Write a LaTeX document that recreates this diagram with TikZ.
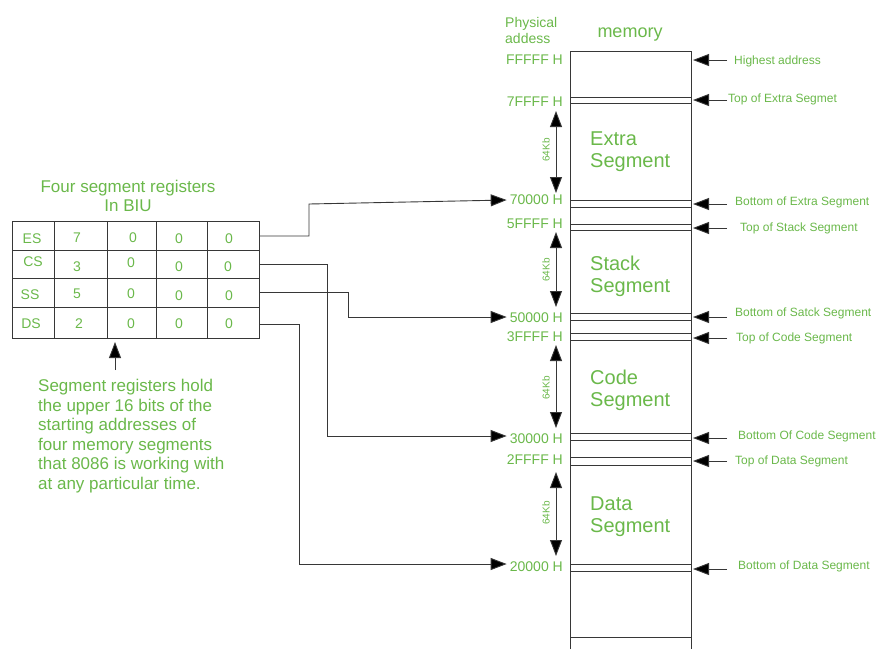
\documentclass[tikz,border=0pt]{standalone}
\usepackage{fontspec}
\setmainfont{Liberation Sans}
\usetikzlibrary{arrows.meta}
\definecolor{grn}{RGB}{106,184,74}
\definecolor{ln}{RGB}{55,55,55}
\begin{document}
\begin{tikzpicture}[x=1pt,y=-1pt,
  txt/.style={text=grn, inner sep=0pt},
  addr/.style={txt, anchor=mid east, font=\fontsize{14}{16}\selectfont},
  rlbl/.style={txt, anchor=mid west, font=\fontsize{12}{14}\selectfont},
  seg/.style={txt, align=left, anchor=west, font=\fontsize{20}{22}\selectfont},
  cell/.style={txt, font=\fontsize{14}{16}\selectfont},
  wire/.style={draw=ln, line width=0.9pt},
  tipA/.tip={Triangle[length=16pt,width=12pt,fill=black]},
  arr/.style={wire, -tipA},
  darr/.style={wire, tipA-tipA},
  kb/.style={txt, rotate=90, font=\fontsize{10}{12}\selectfont}
]
\useasboundingbox (0,0) rectangle (881,649);

% ---------- memory column ----------
\draw[wire] (570,649) -- (570,51) -- (691,51) -- (691,649);
\draw[wire] (570,637) -- (691,637);
\foreach \yy in {97,103,200,207,224,230,313,320,333,340,433,440,457,465,564,571}
  \draw[wire] (570,\yy) -- (691,\yy);

\node[txt, align=left, anchor=west, font=\fontsize{14}{16}\selectfont] (phys) at (505,30) {Physical\\addess};
\node[txt, font=\fontsize{18}{20}\selectfont] (mem) at (630,35) {memory};

% ---------- addresses ----------
\node[addr] (aF) at (563,62) {FFFFF H};
\node[addr] (a7F) at (563,104) {7FFFF H};
\node[addr] (a70) at (563,202) {70000 H};
\node[addr] (a5F) at (563,226) {5FFFF H};
\node[addr] (a50) at (563,320) {50000 H};
\node[addr] (a3F) at (563,339) {3FFFF H};
\node[addr] (a30) at (563,441) {30000 H};
\node[addr] (a2F) at (563,462) {2FFFF H};
\node[addr] (a20) at (563,569) {20000 H};

% ---------- segment names ----------
\node[seg] (sE) at (590,152) {Extra\\Segment};
\node[seg] (sS) at (590,276) {Stack\\Segment};
\node[seg] (sC) at (590,390) {Code\\Segment};
\node[seg] (sD) at (590,517) {Data\\Segment};

% ---------- 64Kb arrows ----------
\foreach \n/\ya/\yb/\yk in {E/111/193/150, S/232/307/270, C/345/428/388, D/472/556/513}{
  \coordinate (kt\n) at (556,\ya);
  \coordinate (kb\n) at (556,\yb);
  \draw[darr] (kt\n) -- (kb\n);
  \node[kb] (kl\n) at (546,\yk) {64Kb};
}

% ---------- right-hand labels ----------
\foreach \n/\xl/\yl/\ya/\t in {
  1/734/62/60/Highest address,
  2/728/100/100/Top of Extra Segmet,
  3/735/203/204/Bottom of Extra Segment,
  4/740/229/228/Top of Stack Segment,
  5/735/314/317/Bottom of Satck Segment,
  6/736/339/338/Top of Code Segment,
  7/738/437/438/Bottom Of Code Segment,
  8/735/462/461/Top of Data Segment,
  9/738/567/569/Bottom of Data Segment}{
  \node[rlbl] (r\n) at (\xl,\yl) {\t};
  \coordinate (ra\n) at (727,\ya);
  \coordinate (rb\n) at (693,\ya);
  \draw[arr] (ra\n) -- (rb\n);
}

% ---------- register table ----------
\node[txt, align=center, font=\fontsize{17}{19}\selectfont] (title) at (128,196) {Four segment registers\\In BIU};
\draw[wire] (12,221) rectangle (259,338);
\foreach \yy in {250,278,307} \draw[wire] (12,\yy) -- (259,\yy);
\foreach \xx in {54,107,156,207} \draw[wire] (\xx,221) -- (\xx,338);

\foreach \r/\t/\x/\y in {
  11/ES/32/239, 12/7/77/238, 13/0/133/238, 14/0/179/239, 15/0/229/239,
  21/CS/33/262, 22/3/77/267, 23/0/131/263, 24/0/179/267, 25/0/228/267,
  31/SS/30/295, 32/5/77/294, 33/0/131/294, 34/0/179/296, 35/0/229/296,
  41/DS/31/324, 42/2/79/324, 43/0/131/324, 44/0/179/324, 45/0/229/324}
  \node[cell] (c\r) at (\x,\y) {\t};

% ---------- connectors ----------
\coordinate (es) at (259,236);
\coordinate (cs) at (259,264);
\coordinate (ss) at (259,292);
\coordinate (ds) at (259,324);
\draw[arr] (es) -- (309,236) -- (309,204) -- ([xshift=-3]a70.mid west |- 0,200);
\draw[arr] (cs) -- (327,264) -- (327,436) -- ([xshift=-3]a30.mid west |- 0,436);
\draw[arr] (ss) -- (348,292) -- (348,317) -- ([xshift=-3]a50.mid west |- 0,317);
\draw[arr] (ds) -- (299,324) -- (299,564) -- ([xshift=-3]a20.mid west |- 0,564);

% ---------- note ----------
\node[txt, align=left, anchor=north west, font=\fontsize{17}{19.6}\selectfont] (note) at (38,379)
  {Segment registers hold\\the upper 16 bits of the\\starting addresses of\\four memory segments\\that 8086 is working with\\at any particular time.};
\coordinate (nt) at (115,370);
\coordinate (nh) at (115,342);
\draw[arr] (nt) -- (nh);
\end{tikzpicture}
\end{document}
